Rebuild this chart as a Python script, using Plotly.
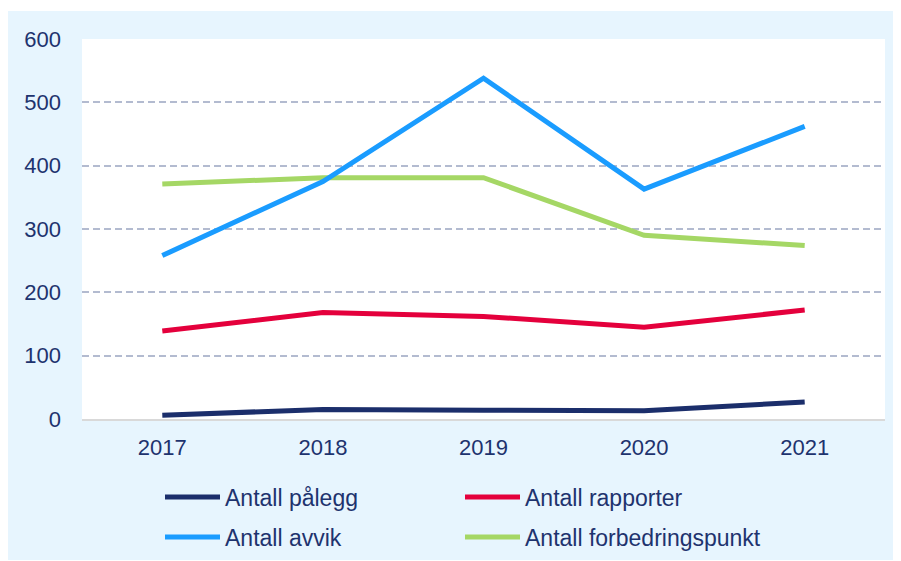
import plotly.graph_objects as go

years = ["2017", "2018", "2019", "2020", "2021"]
palegg = [6, 15, 14, 13, 27]
rapporter = [139, 168, 162, 145, 172]
avvik = [258, 375, 538, 363, 462]
forbedring = [371, 381, 381, 290, 274]
y_ticks = [0, 100, 200, 300, 400, 500, 600]

# figure is placed at page offset (8, 8) by the default body margin
W, H = 891, 552
L, R, T, B = 74, 14, 31, 141
PW, PH = W - L - R, H - T - B

def px(x):
    return (x - L) / PW

def py(y):
    return (H - B - y) / PH

TXT = "#1e336e"
FONT = "Liberation Sans, Arial, sans-serif"

fig = go.Figure()
fig.add_trace(go.Scatter(x=years, y=palegg, name="Antall pålegg", mode="lines",
                         line=dict(color="#1b2e6b", width=5), legend="legend"))
fig.add_trace(go.Scatter(x=years, y=rapporter, name="Antall rapporter", mode="lines",
                         line=dict(color="#e4003c", width=5), legend="legend2"))
fig.add_trace(go.Scatter(x=years, y=forbedring, name="Antall forbedringspunkt", mode="lines",
                         line=dict(color="#a5d765", width=5), legend="legend4"))
fig.add_trace(go.Scatter(x=years, y=avvik, name="Antall avvik", mode="lines",
                         line=dict(color="#1a9cff", width=5), legend="legend3"))

legend_common = dict(orientation="h", font=dict(family=FONT, size=23, color=TXT),
                     bgcolor="rgba(0,0,0,0)", itemwidth=55,
                     xanchor="left", yanchor="middle")

col1, col2 = 152, 452
row1, row2 = 489, 529

fig.update_layout(
    width=W, height=H,
    margin=dict(l=L, r=R, t=T, b=B, autoexpand=False),
    paper_bgcolor="#e7f5fe",
    plot_bgcolor="white",
    font=dict(family=FONT, size=22, color=TXT),
    showlegend=True,
    legend=dict(x=px(col1), y=py(row1), **legend_common),
    legend2=dict(x=px(col2), y=py(row1), **legend_common),
    legend3=dict(x=px(col1), y=py(row2), **legend_common),
    legend4=dict(x=px(col2), y=py(row2), **legend_common),
    xaxis=dict(type="category", range=[-0.5, 4.5], showgrid=False,
               showline=True, linecolor="#d9d9d9", linewidth=2,
               ticks="", ticklabelstandoff=8, tickfont=dict(size=22, color=TXT)),
    yaxis=dict(range=[0, 600], tickvals=y_ticks, showgrid=True,
               gridcolor="#b3bbd0", gridwidth=1.5, griddash="7px,4px",
               zeroline=False, showline=False, ticks="",
               ticklabelstandoff=20, tickfont=dict(size=22, color=TXT)),
    shapes=[
        dict(type="rect", xref="paper", yref="paper", layer="below",
             x0=px(0), x1=px(W), y0=py(3), y1=py(0),
             fillcolor="white", line=dict(width=0)),
    ],
)

fig.write_html("out.html")
